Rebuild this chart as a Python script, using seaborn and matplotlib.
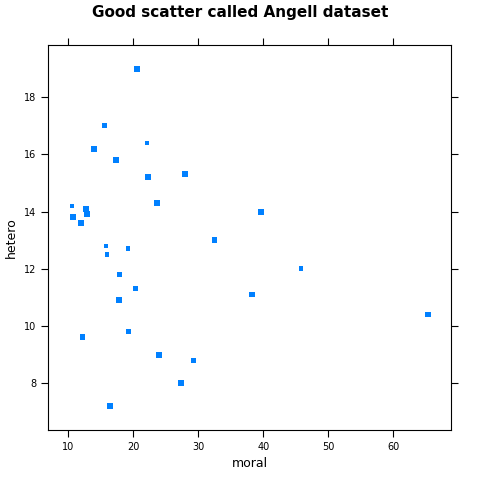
import matplotlib
matplotlib.use("Agg")
import matplotlib.pyplot as plt
import seaborn as sns
import pandas as pd

# values
moral = [20.6, 15.6, 22.1, 14.0, 17.4, 27.9, 22.3, 23.7, 10.6, 12.7, 39.7, 12.9, 10.7, 12.0, 32.5,
         15.8, 19.2, 16.0, 45.8, 17.9, 20.4, 38.3, 17.8, 65.3, 12.2, 19.3, 23.9, 29.3, 27.4, 16.4]
hetero = [19.0, 17.0, 16.4, 16.2, 15.8, 15.3, 15.2, 14.3, 14.2, 14.1, 14.0, 13.9, 13.8, 13.6, 13.0,
          12.8, 12.7, 12.5, 12.0, 11.8, 11.3, 11.1, 10.9, 10.4, 9.6, 9.8, 9.0, 8.8, 8.0, 7.2]
big = [1, 0, 0, 1, 1, 1, 1, 1, 0, 1, 1, 1, 1, 1, 1,
       0, 0, 0, 0, 0, 0, 1, 1, 1, 1, 0, 1, 0, 1, 1]

df = pd.DataFrame({"moral": moral, "hetero": hetero, "big": big})
df["s"] = df["big"].map({1: 18, 0: 11})

sns.set_style("white")
plt.rcParams["text.color"] = "black"
plt.rcParams["axes.labelcolor"] = "black"
plt.rcParams["xtick.color"] = "black"
plt.rcParams["ytick.color"] = "black"
fig, ax = plt.subplots(figsize=(4.8, 4.8), dpi=100)
fig.subplots_adjust(left=0.1, right=0.94, top=0.906, bottom=0.104)
sns.scatterplot(data=df, x="moral", y="hetero", size="s", sizes=(11, 18), marker="s",
                color="#0080ff", edgecolor="none", legend=False, ax=ax)
ax.set_xlim(6.9, 68.9)
ax.set_ylim(6.36, 19.82)
ax.set_xticks([10, 20, 30, 40, 50, 60])
ax.set_yticks([8, 10, 12, 14, 16, 18])
ax.tick_params(labelsize=7, direction="out", length=5, width=0.8, top=True, right=True,
               bottom=True, left=True)
for sp in ax.spines.values():
    sp.set_linewidth(0.8)
    sp.set_color("black")
ax.set_xlabel("moral", fontsize=9)
ax.set_ylabel("hetero", fontsize=9)
fig.suptitle("Good scatter called Angell dataset", fontsize=11, fontweight="bold", y=0.99)
fig.savefig("out.png", dpi=100)
